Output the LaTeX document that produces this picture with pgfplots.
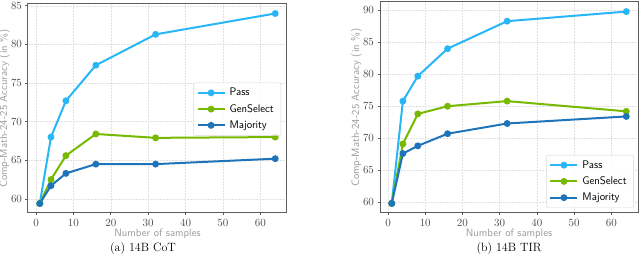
\documentclass[border=0pt]{standalone}
\usepackage{pgfplots}
\pgfplotsset{compat=1.18}
\definecolor{cpass}{RGB}{41,182,246}
\definecolor{cgen}{RGB}{118,185,0}
\definecolor{cmaj}{RGB}{30,115,185}
\definecolor{frm}{RGB}{95,95,95}
\definecolor{lab}{RGB}{155,155,155}
\pgfplotsset{mystyle/.style={
  scale only axis, width=259pt, height=209pt,
  xmin=-2.15, xmax=67.15,
  xtick={0,10,...,60},
  tick align=outside, tick pos=left,
  major tick length=2.5pt,
  grid=major, grid style={black!12, line width=0.5pt, dash pattern=on 2pt off 1pt},
  axis line style={frm, line width=1pt},
  tick style={frm, line width=0.6pt},
  tick label style={font=\fontsize{11}{11}\selectfont, text=black!70},
  label style={font=\sffamily\fontsize{10.7}{12}\selectfont, text=lab},
  xlabel={Number of samples},
  ylabel={Comp-Math-24-25 Accuracy (in \%)},
  xlabel style={at={(axis description cs:0.5,0)}, anchor=center, yshift=-21pt, inner sep=0pt},
  ylabel style={at={(axis description cs:0,0.5)}, anchor=south, yshift=18pt, inner sep=0pt},
  legend style={font=\sffamily\fontsize{11}{13}\selectfont, draw=black!15, rounded corners=2pt, fill=white, fill opacity=0.85, text opacity=1, inner xsep=3pt, inner ysep=3.5pt, row sep=3pt,
    nodes={inner xsep=4pt}},
  legend cell align=left,
  legend image code/.code={\draw[mark repeat=2,mark phase=2] plot coordinates {(0pt,0pt) (13.5pt,0pt) (27pt,0pt)};},
  every axis plot/.append style={line width=2pt, mark=*, mark size=2.4pt},
}}
\begin{document}
\begin{tikzpicture}
\begin{axis}[mystyle, at={(28pt,49pt)}, anchor=south west,
  ymin=58.17, ymax=85.23, ytick={60,65,...,85},
  legend style={at={(0.977,0.624)}, anchor=north east}]
\addplot[cpass] coordinates {(1,59.4) (4,68.0) (8,72.7) (16,77.3) (32,81.3) (64,84.0)};
\addplot[cgen] coordinates {(1,59.4) (4,62.5) (8,65.6) (16,68.4) (32,67.9) (64,68.0)};
\addplot[cmaj] coordinates {(1,59.4) (4,61.7) (8,63.3) (16,64.5) (32,64.5) (64,65.2)};
\legend{Pass,GenSelect,Majority}
\end{axis}
\begin{axis}[mystyle, at={(380pt,49pt)}, anchor=south west, width=258pt, height=211pt,
  ymin=58.3, ymax=91.3, ytick={60,65,...,90},
  legend style={at={(0.984,0.024)}, anchor=south east}]
\addplot[cpass] coordinates {(1,59.8) (4,75.8) (8,79.7) (16,84.0) (32,88.3) (64,89.8)};
\addplot[cgen] coordinates {(1,59.8) (4,69.1) (8,73.8) (16,75.0) (32,75.8) (64,74.2)};
\addplot[cmaj] coordinates {(1,59.8) (4,67.6) (8,68.8) (16,70.7) (32,72.3) (64,73.4)};
\legend{Pass,GenSelect,Majority}
\end{axis}
\node[font=\fontsize{12}{14}\selectfont] at (143pt,13pt) {(a) 14B CoT};
\node[font=\fontsize{12}{14}\selectfont] at (509pt,13pt) {(b) 14B TIR};
\pgfresetboundingbox
\path[use as bounding box] (0pt,0pt) rectangle (640pt,262pt);
\end{tikzpicture}
\end{document}
